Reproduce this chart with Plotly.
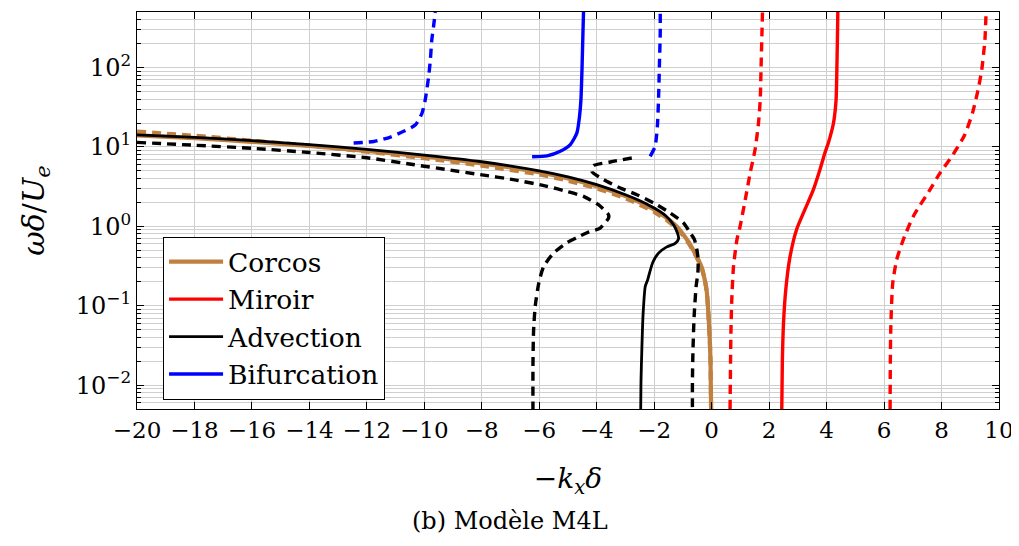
import math
import plotly.graph_objects as go

# ---------------- data ----------------
corcos_x = [-20, -18, -16, -14, -12, -10, -8, -6, -5, -4, -3, -2.5, -2, -1.5, -1.2, -1, -0.8, -0.6,
            -0.45, -0.34, -0.25, -0.17, -0.11, -0.07, -0.04, -0.02]
corcos_y = [14.0, 12.9, 11.6, 10.3, 8.9, 7.6, 6.2, 4.8, 4.0, 3.2, 2.4, 2.0, 1.62, 1.22, 0.98, 0.80, 0.63, 0.47,
            0.37, 0.30, 0.22, 0.15, 0.075, 0.04, 0.02, 0.005]

corcos_d_x = [-20, -18, -16, -14, -12, -10, -8, -6, -5, -4, -3, -2, -1.5, -1.2, -1, -0.8, -0.6,
              -0.45, -0.34, -0.25, -0.17, -0.11, -0.07, -0.04, -0.02]
corcos_d_y = [15.6, 13.8, 12.0, 10.4, 8.7, 7.2, 5.8, 4.5, 3.75, 3.0, 2.25, 1.52, 1.15, 0.93, 0.77, 0.61, 0.46,
              0.36, 0.29, 0.22, 0.15, 0.075, 0.04, 0.02, 0.005]

miroir_x = [2.44, 2.46, 2.50, 2.58, 2.72, 2.95, 3.22, 3.54, 3.77, 3.94, 4.06, 4.24, 4.33, 4.35, 4.38, 4.39]
miroir_y = [0.005, 0.02, 0.06, 0.16, 0.40, 0.90, 1.55, 2.9, 5.2, 8.4, 11.2, 20, 39, 70, 273, 500]

miroir_d1_x = [0.64, 0.67, 0.70, 0.76, 0.88, 0.99, 1.17, 1.34, 1.51, 1.63, 1.69, 1.72, 1.75, 1.77]
miroir_d1_y = [0.005, 0.046, 0.12, 0.31, 0.68, 1.0, 2.17, 4.7, 9.2, 20, 39, 103, 272, 500]

miroir_d2_x = [6.21, 6.23, 6.30, 6.44, 6.67, 7.02, 7.60, 7.95, 8.40, 8.80, 9.08, 9.27, 9.40, 9.51, 9.55]
miroir_d2_y = [0.005, 0.046, 0.19, 0.38, 0.68, 1.34, 2.9, 4.7, 8.0, 14, 27, 52, 94, 223, 500]

advection_x = [-20, -18, -16, -14, -12, -10, -8, -6, -5, -4, -3, -2.5, -2, -1.6, -1.33, -1.19, -1.15,
               -1.27, -1.56, -1.85, -2.05, -2.16, -2.23, -2.31, -2.39, -2.43, -2.46, -2.47]
advection_y = [14.2, 13.2, 12.0, 10.7, 9.3, 7.9, 6.5, 5.0, 4.2, 3.35, 2.5, 2.1, 1.7, 1.36, 1.05, 0.82, 0.70,
               0.61, 0.55, 0.46, 0.35, 0.26, 0.21, 0.176, 0.074, 0.028, 0.011, 0.005]

advection_d1_x = [-20, -18, -16, -14, -12, -10.4, -9.2, -8.05, -6.9, -5.73, -5.04, -4.46, -3.94, -3.59, -3.59,
                  -3.88, -4.34, -4.69, -5.04, -5.5, -5.85, -6.02, -6.14, -6.2, -6.22, -6.22]
advection_d1_y = [11.4, 10.5, 9.6, 8.5, 7.3, 6.0, 5.17, 4.47, 3.87, 3.19, 2.75, 2.38, 1.87, 1.40, 1.27,
                  0.95, 0.83, 0.72, 0.62, 0.46, 0.31, 0.19, 0.099, 0.046, 0.017, 0.005]

advection_d2_x = [-2.78, -3.53, -4.11, -4.17, -3.76, -3.18, -2.6, -2.02, -1.44, -0.98, -0.75, -0.6, -0.52,
                  -0.47, -0.48, -0.54, -0.61, -0.65, -0.67, -0.67]
advection_d2_y = [7.25, 6.46, 5.8, 4.9, 3.87, 3.04, 2.5, 1.97, 1.47, 1.10, 0.83, 0.68, 0.52,
                  0.38, 0.26, 0.176, 0.074, 0.028, 0.011, 0.005]

bif_x = [-6.25, -5.73, -5.27, -4.92, -4.69, -4.60, -4.55, -4.51, -4.48, -4.46]
bif_y = [7.5, 7.7, 8.8, 10.7, 15, 24, 39, 103, 272, 500]

bif_d1_x = [-12.46, -11.76, -11.18, -10.72, -10.31, -10.08, -9.97, -9.85, -9.79, -9.74, -9.68, -9.62]
bif_d1_y = [11.2, 11.7, 13.3, 15.7, 19, 26.7, 39, 77, 125, 223, 328, 500]

bif_d2_x = [-2.14, -1.97, -1.89, -1.85, -1.82, -1.79, -1.79]
bif_d2_y = [7.6, 10.1, 18.1, 39, 103, 272, 500]

x_ticks = list(range(-20, 11, 2))
y_ticks = [0.01, 0.1, 1, 10, 100]
y_ticktext = ["10<sup>−2</sup>", "10<sup>−1</sup>", "10<sup>0</sup>", "10<sup>1</sup>", "10<sup>2</sup>"]

# ---------------- styles ----------------
BROWN = "#bf8040"
RED = "#ff0000"
BLACK = "#000000"
BLUE = "#0000ff"
DASH = "9px,6px"
FONT = "DejaVu Serif"

fig = go.Figure()


def add(x, y, color, width, dash=None, name=None):
    fig.add_trace(go.Scatter(
        x=x, y=y, mode="lines", name=name if name else "",
        showlegend=name is not None,
        line=dict(color=color, width=width, dash=dash if dash else "solid", shape="spline", smoothing=0.6),
        hoverinfo="skip",
    ))


add(corcos_x, corcos_y, BROWN, 4.2, name="Corcos")
add(corcos_d_x, corcos_d_y, BROWN, 4.2, DASH)
add(miroir_x, miroir_y, RED, 3.4, name="Miroir")
add(miroir_d1_x, miroir_d1_y, RED, 3.4, DASH)
add(miroir_d2_x, miroir_d2_y, RED, 3.4, DASH)
add(advection_d1_x, advection_d1_y, BLACK, 3.4, DASH)
add(advection_d2_x, advection_d2_y, BLACK, 3.4, DASH)
add(advection_x, advection_y, BLACK, 2.8, name="Advection")
add(bif_x, bif_y, BLUE, 3.4, name="Bifurcation")
add(bif_d1_x, bif_d1_y, BLUE, 3.4, DASH)
add(bif_d2_x, bif_d2_y, BLUE, 3.4, DASH)

minor_vals = [m * 10 ** e for e in range(-3, 3) for m in range(2, 10)]

GRID = "#cfcfcf"

# the page body has an 8px margin: the figure is sized/offset to compensate
fig.update_layout(
    width=1011, height=538,
    margin=dict(l=129, r=20, t=4, b=137),
    paper_bgcolor="white", plot_bgcolor="white",
    font=dict(family=FONT, size=23, color="black"),
    showlegend=True,
    legend=dict(
        x=0.03, y=0.434, xanchor="left", yanchor="top",
        bgcolor="white", bordercolor="black", borderwidth=1.2,
        font=dict(family=FONT, size=26.5, color="black"),
        tracegroupgap=0, itemwidth=54,
    ),
    xaxis=dict(
        range=[-20, 10], tickmode="array", tickvals=x_ticks, automargin=False,
        ticks="inside", ticklen=7, tickcolor="black", tickwidth=1.2,
        showline=True, linecolor="black", linewidth=1.2, mirror="ticks",
        showgrid=True, gridcolor=GRID, gridwidth=1, zeroline=False,
        tickfont=dict(family=FONT, size=23),
        title=dict(text="−<i>k</i><sub><i>x</i></sub><i>δ</i>", standoff=26,
                   font=dict(family=FONT, size=28)),
    ),
    yaxis=dict(
        type="log", range=[math.log10(0.005), math.log10(500)], automargin=False,
        tickmode="array", tickvals=y_ticks, ticktext=y_ticktext,
        ticks="inside", ticklen=7, tickcolor="black", tickwidth=1.2,
        showline=True, linecolor="black", linewidth=1.2, mirror="ticks",
        showgrid=True, gridcolor=GRID, gridwidth=1, zeroline=False,
        tickfont=dict(family=FONT, size=24),
        minor=dict(tickmode="array", tickvals=minor_vals, ticks="inside", ticklen=4,
                   tickcolor="black", showgrid=True, gridcolor=GRID, gridwidth=1),
        title=dict(text="<i>ωδ</i>/<i>U</i><sub><i>e</i></sub>", standoff=22,
                   font=dict(family=FONT, size=30)),
    ),
    annotations=[dict(
        text="(b) Modèle M4L", xref="paper", yref="paper",
        x=0.4325, y=-0.281, xanchor="center", yanchor="middle",
        showarrow=False, font=dict(family=FONT, size=24, color="black"),
    )],
)

fig.write_html("out.html")
